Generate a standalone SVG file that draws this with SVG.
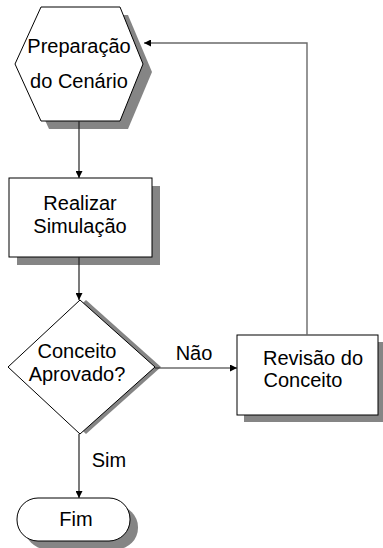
<svg xmlns="http://www.w3.org/2000/svg" width="383" height="548" viewBox="0 0 383 548">
<style>
.shadow{fill:#858585;stroke:none}
.node{fill:#ffffff;stroke:#000000;stroke-width:1}
.lbl{font-family:"Liberation Sans",Arial,sans-serif;font-size:20px;fill:#000000;text-anchor:middle}
.edge{fill:none;stroke:#222222;stroke-width:1.2}
.fb{fill:none;stroke:#6a6a6a;stroke-width:1.4}
</style>
<defs>
<marker id="arr" viewBox="0 0 10 10" refX="10" refY="5" markerWidth="7" markerHeight="7" markerUnits="userSpaceOnUse" orient="auto">
<path d="M0,0 L10,5 L0,10 Z" fill="#000000"/>
</marker>
</defs>
<rect width="383" height="548" fill="#ffffff"/>

<g id="prep">
<polygon class="shadow" points="49,15 128,15 152,72 128,129 49,129 23,72"/>
<polygon class="node" points="41,7 120,7 143,64 120,121 41,121 15,64"/>
<text class="lbl" x="79" y="53">Preparação</text>
<text class="lbl" x="79" y="88">do Cenário</text>
</g>

<g id="sim">
<rect class="shadow" x="17" y="186" width="143" height="79"/>
<rect class="node" x="9" y="178" width="143" height="79"/>
<text class="lbl" x="80" y="210">Realizar</text>
<text class="lbl" x="80" y="233">Simulação</text>
</g>

<g id="decisao">
<polygon class="shadow" points="86,300 161,367 86,434 14,367"/>
<polygon class="node" points="80,300 155,367 80,434 8,367"/>
<text class="lbl" x="77" y="358">Conceito</text>
<text class="lbl" x="77" y="381">Aprovado?</text>
</g>

<g id="revisao">
<rect class="shadow" x="244" y="342" width="141" height="80"/>
<rect class="node" x="237" y="335" width="141" height="80"/>
<text class="lbl" x="313" y="365">Revisão do</text>
<text class="lbl" x="303" y="387">Conceito</text>
</g>

<g id="fim">
<rect class="shadow" x="25" y="506" width="113" height="43" rx="21" ry="21"/>
<rect class="node" x="17" y="498" width="113" height="43" rx="21" ry="21"/>
<text class="lbl" x="76" y="526">Fim</text>
</g>

<g id="connectors">
<line class="edge" x1="79" y1="121" x2="79" y2="178" marker-end="url(#arr)"/>
<line class="edge" x1="79" y1="257" x2="79" y2="300" marker-end="url(#arr)"/>
<line class="edge" x1="155" y1="368" x2="237" y2="368" marker-end="url(#arr)"/>
<polyline class="fb" points="307,335 307,43 144,43" marker-end="url(#arr)"/>
<line class="edge" x1="79" y1="434" x2="79" y2="498" marker-end="url(#arr)"/>
<text class="lbl" x="194" y="360">Não</text>
<text class="lbl" x="109" y="467">Sim</text>
</g>
</svg>
